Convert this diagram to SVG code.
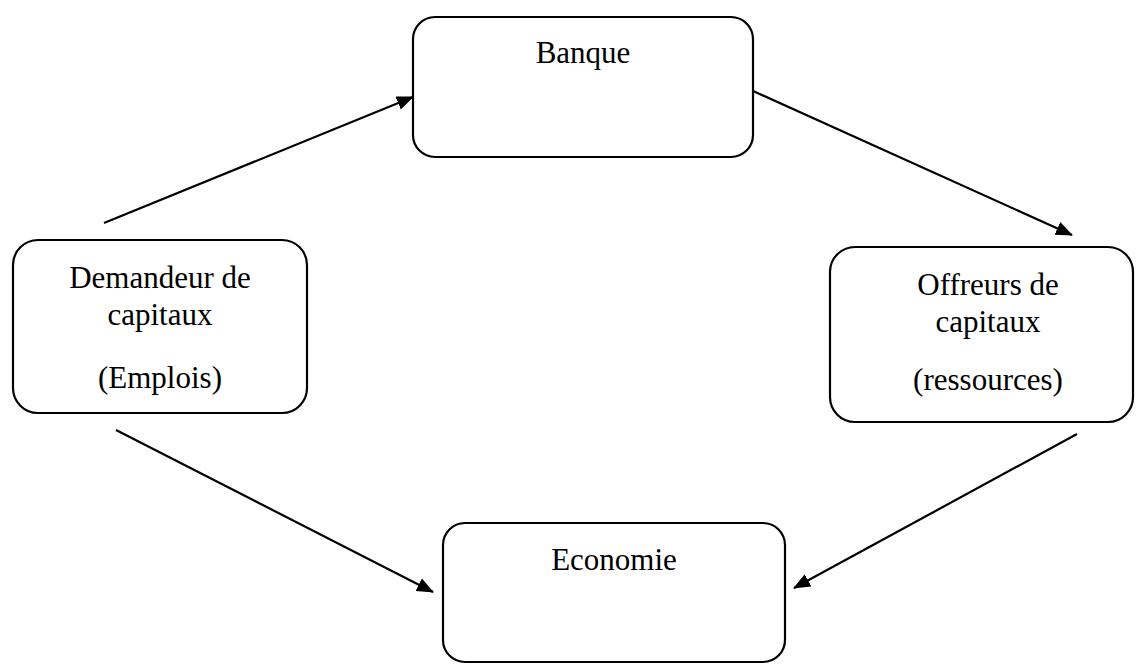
<svg xmlns="http://www.w3.org/2000/svg" width="1136" height="666" viewBox="0 0 1136 666">
<style>
.box{fill:#fff;stroke:#000;stroke-width:2.2}
.t{font-family:"Liberation Serif","Times New Roman",serif;font-size:31px;fill:#000;text-anchor:middle}
.c{stroke:#000;stroke-width:2.2;fill:none;marker-end:url(#ah)}
</style>
<defs>
<marker id="ah" markerUnits="userSpaceOnUse" markerWidth="20" markerHeight="16" refX="16" refY="7" orient="auto" viewBox="0 0 20 16">
<path d="M0,0 L17,7 L0,14 Z" fill="#000"/>
</marker>
</defs>
<rect width="1136" height="666" fill="#fff"/>
<g id="banque">
<rect class="box" x="413" y="17" width="340" height="140" rx="22" ry="22"/>
<text class="t" x="583" y="63">Banque</text>
</g>
<g id="demandeur">
<rect class="box" x="13" y="240" width="294" height="173" rx="25" ry="25"/>
<text class="t" x="160" y="288">Demandeur de</text>
<text class="t" x="160" y="325">capitaux</text>
<text class="t" x="160" y="388">(Emplois)</text>
</g>
<g id="offreurs">
<rect class="box" x="830" y="247" width="303" height="175" rx="25" ry="25"/>
<text class="t" x="988" y="295">Offreurs de</text>
<text class="t" x="988" y="332">capitaux</text>
<text class="t" x="988" y="390">(ressources)</text>
</g>
<g id="economie">
<rect class="box" x="443" y="523" width="342" height="139" rx="22" ry="22"/>
<text class="t" x="614" y="570">Economie</text>
</g>
<g id="connectors">
<line class="c" x1="104" y1="223" x2="413" y2="97"/>
<line class="c" x1="753" y1="91" x2="1072" y2="235"/>
<line class="c" x1="116" y1="430" x2="433" y2="592"/>
<line class="c" x1="1077" y1="434" x2="794" y2="588"/>
</g>
</svg>
